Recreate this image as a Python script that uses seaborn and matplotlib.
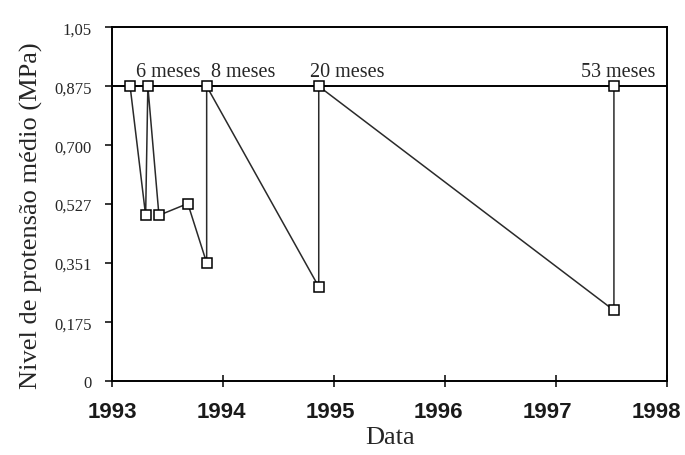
import numpy as np
import pandas as pd
import matplotlib
matplotlib.use('Agg')
import matplotlib.pyplot as plt
import matplotlib.transforms as mtransforms
import seaborn as sns

# Dados (ano decimal, nível de protensão em MPa)
anos = [1993.16, 1993.30, 1993.32, 1993.42, 1993.68, 1993.85, 1993.85,
        1994.86, 1994.86, 1997.52, 1997.52]
nivel = [0.875, 0.492, 0.875, 0.492, 0.527, 0.351, 0.875,
         0.280, 0.875, 0.210, 0.875]

nivel_inicial = 0.875

# Rótulos dos intervalos de reprotensão
rotulos = ['6 meses', '8 meses', '20 meses', '53 meses']
rotulos_x = [1993.21, 1993.89, 1994.78, 1997.22]

y_ticks = [0, 0.175, 0.351, 0.527, 0.700, 0.875, 1.05]
y_labels = ['0', '0,175', '0,351', '0,527', '0,700', '0,875', '1,05']
x_ticks = [1993, 1994, 1995, 1996, 1997, 1998]

df = pd.DataFrame({'ano': anos, 'nivel': nivel})

sns.set_style('ticks')
plt.rcParams['font.family'] = ['Liberation Serif', 'DejaVu Serif']

fig = plt.figure(figsize=(6.85, 4.56), dpi=100)
ax = fig.add_axes([0.164, 0.162, 0.810, 0.776])

ax.axhline(nivel_inicial, color='black', lw=1.4, zorder=1)
sns.lineplot(data=df, x='ano', y='nivel', sort=False, estimator=None,
             color='#2a2a2a', lw=1.1, marker='s', markersize=7,
             markerfacecolor='white', markeredgecolor='black',
             markeredgewidth=1.1, ax=ax, zorder=3)

for txt, xr in zip(rotulos, rotulos_x):
    ax.text(xr, 0.905, txt, fontsize=14.5, ha='left', va='baseline')

ax.set_xlim(1993, 1998)
ax.set_ylim(0, 1.05)
ax.set_xticks(x_ticks)
ax.set_xticklabels([str(t) for t in x_ticks], family='Liberation Sans',
                   fontsize=16, fontweight='bold', color='#1a1a1a')
ax.set_yticks(y_ticks)
ax.set_yticklabels(y_labels, fontsize=12)
ax.tick_params(axis='x', direction='inout', length=8, width=1.3, pad=10)
ax.tick_params(axis='y', direction='out', length=5, width=1.3, pad=10)

# os rótulos do eixo x vão se deslocando um pouco para a esquerda
for i, lab in enumerate(ax.get_xticklabels()):
    lab.set_transform(lab.get_transform() +
                      mtransforms.ScaledTranslation(-0.022 * i, 0, fig.dpi_scale_trans))

ax.set_xlabel('Data', fontsize=19, labelpad=3)
ax.set_ylabel('Nivel de protensão médio (MPa)', fontsize=19)
ax.yaxis.set_label_coords(-0.125, 0.47)

for s in ax.spines.values():
    s.set_linewidth(1.4)
    s.set_color('black')

fig.savefig('out.png', dpi=100)
